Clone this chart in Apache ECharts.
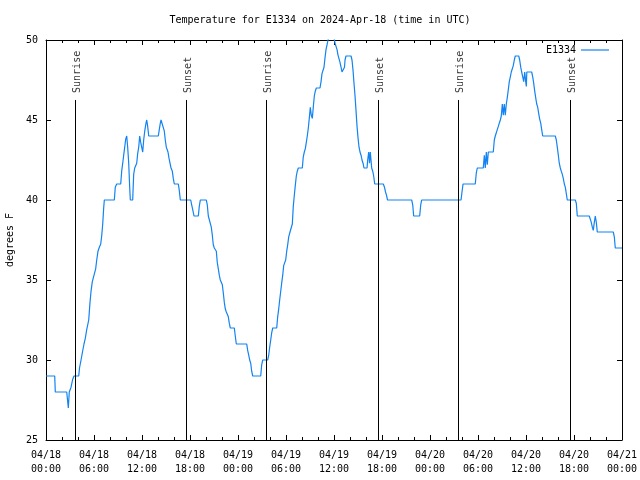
<!DOCTYPE html>
<html><head><meta charset="utf-8">
<script src="https://cdn.jsdelivr.net/npm/echarts@6/dist/echarts.min.js"></script>
<style>html,body{margin:0;padding:0;background:#fff}#c{width:640px;height:480px}</style>
</head><body><div id="c"></div>
<script>
// hours since 2024-04-18 00:00 UTC
const hours = [0,1.09,1.16,2.59,2.79,2.91,3.13,3.34,3.5,4.09,4.19,4.38,4.56,4.75,4.91,5.09,5.34,5.5,5.63,5.79,6.04,6.21,6.34,6.5,6.63,6.84,6.96,7.09,7.21,7.29,8.54,8.66,8.84,9.34,9.46,9.59,9.71,9.84,9.96,10.09,10.21,10.34,10.46,10.54,10.84,10.88,10.96,11.09,11.34,11.46,11.59,11.71,11.84,11.96,12.09,12.21,12.34,12.5,12.59,12.71,12.84,14.04,14.16,14.29,14.38,14.63,14.79,14.91,15.04,15.25,15.38,15.5,15.63,15.79,15.91,16.04,16.54,16.66,16.79,18.09,18.21,18.34,18.5,19.04,19.16,19.29,20.04,20.16,20.29,20.54,20.66,20.79,20.91,21.04,21.29,21.41,21.54,21.66,21.79,22.04,22.16,22.29,22.41,22.54,22.79,22.91,23.04,23.54,23.66,23.79,25.09,25.21,25.34,25.46,25.59,25.71,25.84,26.84,26.96,27.09,27.71,27.84,27.96,28.09,28.21,28.34,28.84,28.96,29.09,29.21,29.34,29.46,29.59,29.71,29.88,29.96,30.09,30.21,30.34,30.5,30.66,30.79,30.91,31.04,31.16,31.29,31.41,31.54,32.04,32.16,32.29,32.41,32.54,32.66,32.79,32.91,33.04,33.16,33.29,33.41,33.54,33.66,33.79,34.25,34.38,34.5,34.63,34.75,34.88,35,35.13,35.25,35.5,35.88,36.13,36.25,36.38,36.5,36.63,36.75,36.88,37,37.25,37.31,37.38,37.5,38.13,38.25,38.38,38.5,38.63,38.75,38.88,39,39.13,39.25,39.38,39.5,39.63,39.75,40.13,40.21,40.34,40.44,40.54,40.71,40.84,40.96,41.09,42.16,42.31,42.44,42.56,42.69,45.71,45.84,45.96,46.71,46.84,46.96,51.88,52,52.13,53.66,53.79,53.91,54.66,54.79,54.91,55.04,55.16,55.29,55.91,56.04,56.16,56.29,56.41,56.54,56.66,56.79,56.91,57.04,57.16,57.29,57.41,57.54,57.66,57.79,57.91,58.04,58.16,58.29,58.41,58.54,58.66,59.09,59.21,59.34,59.46,59.59,59.71,59.84,59.96,60.04,60.1,60.21,60.71,60.84,60.96,61.09,61.21,61.34,61.46,61.59,61.71,61.84,61.96,62.09,63.66,63.79,63.91,64.04,64.16,64.29,64.41,64.54,64.66,64.79,64.91,65.04,65.16,66.16,66.29,66.41,67.91,68.04,68.16,68.29,68.41,68.54,68.66,68.79,68.91,70.91,71.04,71.16,72];
const temps = [29,29,28,28,27,28,28.3,28.8,29,29,29.5,30,30.5,31,31.35,31.9,32.5,33.6,34.3,34.9,35,35.7,36.25,36.8,37,37.25,37.75,38.5,39.5,40,40,40.8,41,41,41.8,42.3,42.8,43.3,43.8,44,43.3,42.3,40.8,40,40,40.6,41.6,42,42.3,42.9,43.3,44,43.6,43.3,43,43.75,44.3,44.8,45,44.6,44,44,44.4,44.8,45,45,44.3,43.75,43.3,43,42.6,42.3,42,41.8,41.35,41,41,40.6,40,40,39.7,39.4,39,39,39.6,40,40,39.7,39,39,38.3,37.8,37.2,37,36.8,36.1,35.7,35.3,35,34.7,34.2,33.6,33.2,33,32.7,32.3,32,32,31.5,31,31,30.6,30.3,30,29.8,29.3,29,29,29.7,30,30,30.3,30.8,31.25,31.7,32,32,32.7,33.2,33.75,34.3,34.8,35.3,35.9,35.9,36.25,36.8,37.2,37.7,38,38,38.5,39.6,40.3,40.9,41.5,41.8,42,42,42.7,43,43.2,43.6,44,44.5,45.1,45.8,45.3,45.1,45.8,46.5,46.8,47,47,47.4,47.9,48,48.3,48.9,49.4,49.7,50,50.4,50.4,49.8,49.7,49.4,49.06,49,48.6,48.3,48,48,48.3,48.75,49,49,48.75,48.1,47.3,46.5,45.6,44.6,43.9,43.3,43,42.8,42.5,42.3,42,42,42.5,43,42.3,43,42,41.8,41.5,41,41,40.8,40.5,40.3,40,40,39.7,39,39,39.7,40,40,40.5,41,41,41.7,42,42,42.8,42,43,42.2,43,43,43.75,44,44.2,44.4,44.6,44.8,45,45.25,46,45.3,46,45.3,46,46.4,46.9,47.4,47.7,48,48.2,48.4,48.75,49,49,48.75,48.3,48,47.7,47.4,48,47.4,47.1,48,48,48,47.7,47.3,46.8,46.4,46,45.8,45.4,45.06,44.8,44.4,44,44,43.75,43.3,42.8,42.3,42,41.8,41.6,41.35,41,40.8,40.4,40,40,39.8,39,39,38.9,38.6,38.3,38.1,38.6,39,38.6,38,38,37.7,37,37];
const eventHours = [3.62, 17.54, 27.55, 41.54, 51.54, 65.55];
const eventNames = ['Sunrise','Sunset','Sunrise','Sunset','Sunrise','Sunset'];
const xTicks = [0,6,12,18,24,30,36,42,48,54,60,66,72];
const yTicks = [25,30,35,40,45,50];
const seriesName = 'E1334';
const titleText = 'Temperature for E1334 on 2024-Apr-18 (time in UTC)';
const yName = 'degrees F';

const FONT = 'DejaVu Sans Mono';
const pts = hours.map((h,i)=>[h,temps[i]]);
const lineTop = 46.25, labelY = 46.69;

function fmtX(v){
  const d = 18 + Math.floor(v/24);
  const hh = Math.round(v % 24);
  return '04/' + String(d).padStart(2,'0') + '\n' + String(hh).padStart(2,'0') + ':00';
}
const chart = echarts.init(document.getElementById('c'), null, {renderer:'canvas'});
const axisCommon = {
  axisLine:{show:true, onZero:false, lineStyle:{color:'#000', width:1}},
  splitLine:{show:false}
};
chart.setOption({
  animation:false,
  backgroundColor:'#fff',
  title:{text:titleText, left:'center', top:10,
    textStyle:{fontFamily:FONT, fontSize:10, fontWeight:'normal', color:'#000'}},
  legend:{data:[{name:seriesName, icon:'rect'}], right:26, top:40, align:'right', itemWidth:28, itemHeight:1.2, itemGap:6,
    textStyle:{fontFamily:FONT, fontSize:10, color:'#000'}},
  grid:{left:46, right:18, top:40, bottom:40, outerBoundsMode:'none', containLabel:false},
  xAxis:[
    Object.assign({type:'value', position:'bottom', min:xTicks[0], max:xTicks[xTicks.length-1], interval:6,
      axisTick:{show:true, inside:true, length:5, lineStyle:{color:'#000'}},
      minorTick:{show:true, splitNumber:3, length:3, lineStyle:{color:'#000'}},
      axisLabel:{formatter:fmtX, fontFamily:FONT, fontSize:10, color:'#000', lineHeight:14, margin:8}}, axisCommon),
    Object.assign({type:'value', position:'top', min:xTicks[0], max:xTicks[xTicks.length-1], interval:6,
      axisTick:{show:true, inside:true, length:5, lineStyle:{color:'#000'}},
      minorTick:{show:true, splitNumber:3, length:3, lineStyle:{color:'#000'}},
      axisLabel:{show:false}}, axisCommon)
  ],
  yAxis:[
    Object.assign({type:'value', position:'left', min:yTicks[0], max:yTicks[yTicks.length-1], interval:5,
      name:yName, nameLocation:'middle', nameGap:31, nameRotate:90,
      nameTextStyle:{fontFamily:FONT, fontSize:10, color:'#000'},
      axisTick:{show:true, inside:true, length:5, lineStyle:{color:'#000'}},
      axisLabel:{fontFamily:FONT, fontSize:10, color:'#000', margin:8}}, axisCommon),
    Object.assign({type:'value', position:'right', min:yTicks[0], max:yTicks[yTicks.length-1], interval:5,
      axisTick:{show:true, inside:true, length:5, lineStyle:{color:'#000'}},
      axisLabel:{show:false}}, axisCommon)
  ],
  series:[
    {name:seriesName, type:'line', data:pts, symbol:'none', clip:true,
      lineStyle:{color:'#1283f2', width:1.2}, itemStyle:{color:'#1283f2'},
      markLine:{silent:true, symbol:['none','none'], label:{show:false},
        lineStyle:{color:'#000', width:1, type:'solid'},
        data:eventHours.map(h=>[{coord:[h, yTicks[0]]},{coord:[h, lineTop]}])}
    },
    {name:'events', type:'scatter', symbolSize:0, data:eventHours.map((h,i)=>({value:[h,labelY], name:eventNames[i]})),
      label:{show:true, position:'inside', rotate:90, align:'left', verticalAlign:'middle', offset:[0,2],
        formatter:p=>p.name, fontFamily:FONT, fontSize:10, color:'#000'}, silent:true}
  ]
});
</script></body></html>
